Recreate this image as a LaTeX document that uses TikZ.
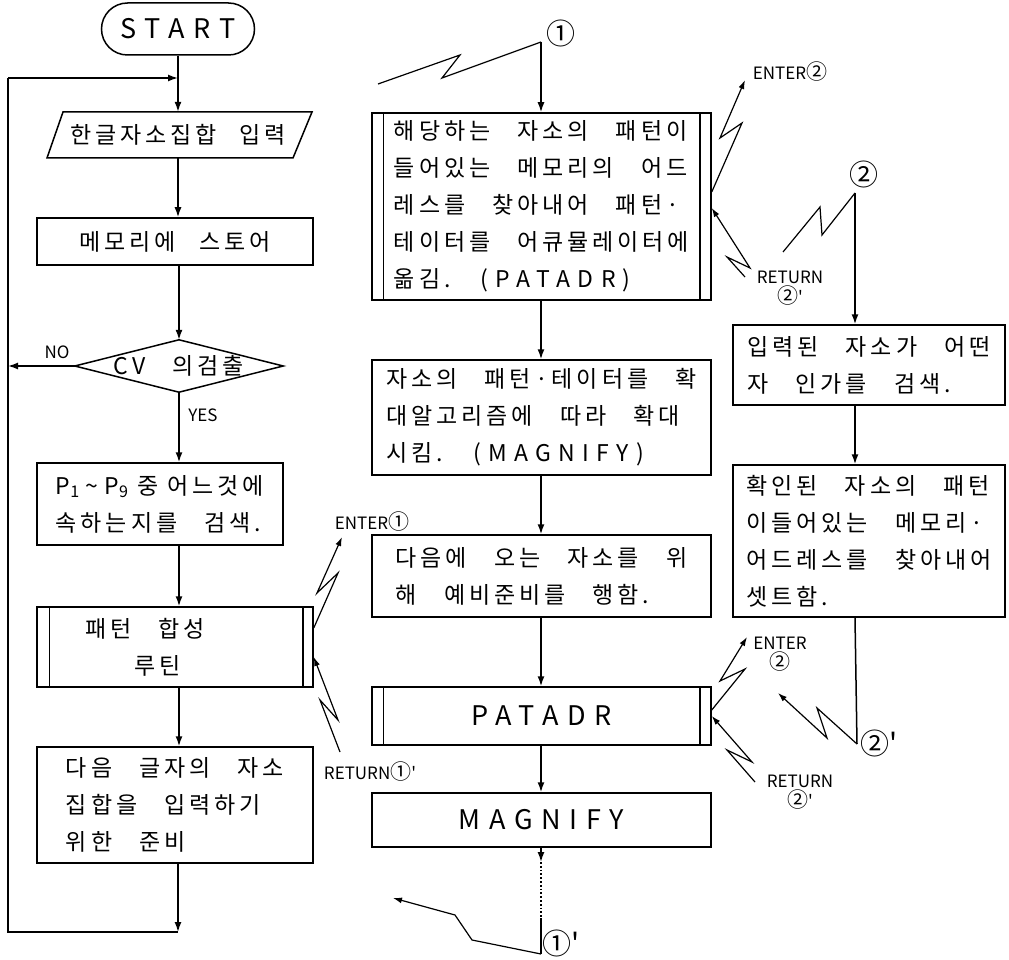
\documentclass[tikz,border=0pt]{standalone}
\usepackage{fontspec}
\newfontfamily\kr{Noto Sans CJK KR}[LetterSpace=17,WordSpace=3]
\newfontfamily\krl{Noto Sans CJK KR}[LetterSpace=32]
\newfontfamily\krn{Noto Sans CJK KR}
\usetikzlibrary{arrows.meta}
\newcommand{\cnum}[1]{{\fontsize{21}{21}\selectfont #1}}
\begin{document}
\begin{tikzpicture}[x=1pt,y=-1pt,
  kr/.style={font=\kr\fontsize{23}{37}\selectfont},
  box/.style={draw, line width=1.5pt, inner sep=0pt, kr, align=left},
  flow/.style={line width=1.5pt, -{Latex[length=10pt,width=7pt]}},
  link/.style={line width=1.5pt},
  lab/.style={font=\krn\fontsize{17}{20}\selectfont, inner sep=0pt, align=center},
  circ/.style={font=\krn\fontsize{29}{29}\selectfont, inner sep=0pt},
  bolt/.style={line width=1.2pt, -{Latex[length=9pt,width=6pt]}},
  boltline/.style={line width=1.2pt},
  latin/.style={font=\krl\fontsize{27}{27}\selectfont}
]
\fill[white] (0,0) rectangle (1009,960);
\useasboundingbox (0,0) rectangle (1009,960);

% ---------------- left column ----------------
\node[box, latin, minimum width=153, minimum height=52, rounded corners=26] (start) at (178,29) {START};
\node[kr, inner sep=0pt, minimum height=46, minimum width=200] (in) at (178,135) {한글자소집합\quad 입력};
\draw[link] (63,112) -- (312,112) -- (293,158) -- (47,158) -- cycle;
\node[box, minimum width=276, minimum height=47] (store) at (175,241.5) {메모리에\quad 스토어};
\node[kr, inner sep=0pt, minimum width=208, minimum height=52] (cv) at (179,366) {CV 의검출};
\draw[link] (cv.north) -- (cv.east) -- (cv.south) -- (cv.west) -- cycle;
\node[box, minimum width=246, minimum height=82] (pb) at (160,504) {P\textsubscript{1}\hspace{6pt}\textasciitilde\hspace{6pt}P\textsubscript{9}\hspace{9pt}중\hspace{9pt}어느것에\\속하는지를 검색.};
\node[box, minimum width=276, minimum height=80, align=center] (sub) at (175,647) {패턴 합성\hspace*{60pt}\\루틴\hspace*{34pt}};
\draw[link] ([xshift=13pt]sub.north west) -- ([xshift=13pt]sub.south west);
\draw[link] ([xshift=-11pt]sub.north east) -- ([xshift=-11pt]sub.south east);
\node[box, minimum width=276, minimum height=116] (prep) at (175,805) {다음 글자의 자소\\집합을 입력하기\\위한 준비};

\coordinate (j) at (178,78);
\coordinate (lb) at (178,932);
\coordinate (lbl) at (8,932);
\coordinate (ltl) at (8,78);
\draw[flow] (start.south) -- (in.north);
\draw[flow] (in.south) -- (in.south |- store.north);
\draw[flow] (cv.north |- store.south) -- (cv.north);
\draw[flow] (cv.west) -- (cv.west -| ltl);
\draw[flow] (cv.south) -- (cv.south |- pb.north);
\draw[flow] (cv.south |- pb.south) -- (cv.south |- sub.north);
\draw[flow] (cv.south |- sub.south) -- (cv.south |- prep.north);
\draw[flow] (lb |- prep.south) -- (lb);
\draw[line width=2.4pt] (lb) -- (lbl) -- (ltl);
\draw[flow] (ltl) -- (j);
\node[lab] (no) at (57,352) {NO};
\node[lab] (yes) at (203,415) {YES};

% ENTER 1 / RETURN 1
\node[lab] (en1) at (372,522) {ENTER\cnum{①}};
\node[lab] (re1) at (370,772) {RETURN\cnum{①}'};
\draw[bolt] (sub.east |- 0,628) -- (338,573) -- (317,593) -- (342,537);
\draw[bolt] (340,752) -- (320,700) -- (338,720) -- (sub.east |- 0,657);

% ---------------- middle column ----------------
\node[circ] (c1) at (561,33) {①};
\coordinate (m1) at (541,42);
\node[box, minimum width=339, minimum height=187] (pa1) at (541.5,206.5)
  {해당하는 자소의 패턴이\\들어있는 메모리의 어드\\레스를 찾아내어 패턴·\\테이터를 어큐뮬레이터에\\옮김. {\krl (PATADR)}};
\draw[link] ([xshift=12pt]pa1.north west) -- ([xshift=12pt]pa1.south west);
\draw[link] ([xshift=-12pt]pa1.north east) -- ([xshift=-12pt]pa1.south east);
\draw[boltline] (378,84) -- (460,55) -- (442,78) -- (m1);
\draw[flow] (m1) -- (m1 |- pa1.north);

\node[box, minimum width=339, minimum height=115] (mg1) at (541.5,417.5)
  {자소의 패턴·테이터를 확\\대알고리즘에 따라 확대\\시킴. {\krl (MAGNIFY)}};
\node[box, minimum width=339, minimum height=82] (nx) at (541.5,576)
  {다음에 오는 자소를 위\\해 예비준비를 행함.};
\node[box, latin, minimum width=339, minimum height=58] (pa2) at (541.5,716) {PATADR};
\draw[link] ([xshift=12pt]pa2.north west) -- ([xshift=12pt]pa2.south west);
\draw[link] ([xshift=-12pt]pa2.north east) -- ([xshift=-12pt]pa2.south east);
\node[box, latin, minimum width=339, minimum height=54] (mg2) at (541.5,820) {MAGNIFY};

\draw[flow] (m1 |- pa1.south) -- (m1 |- mg1.north);
\draw[flow] (m1 |- mg1.south) -- (m1 |- nx.north);
\draw[flow] (m1 |- nx.south) -- (m1 |- pa2.north);
\draw[flow] (m1 |- pa2.south) -- (m1 |- mg2.north);

\coordinate (d1) at (541,862);
\coordinate (d2) at (541,918);
\coordinate (m1e) at (541,954);
\draw[flow] (m1 |- mg2.south) -- (d1);
\draw[line width=1.8pt, dotted] (d1) -- (d2);
\draw[link] (d2) -- (m1e);
\node[circ] (c1e) at (561,943) {①'};
\draw[bolt] (m1e) -- (472,940) -- (455,915) -- (393,898);

% ---------------- right column ----------------
\node[circ] (c2) at (864,174) {②};
\coordinate (m2) at (855,193);
\node[box, minimum width=272, minimum height=80] (se) at (869,365)
  {입력된 자소가 어떤\\자 인가를 검색.};
\node[box, minimum width=272, minimum height=152] (sa) at (869,541)
  {확인된 자소의 패턴\\이들어있는 메모리·\\어드레스를 찾아내어\\셋트함.};
\draw[flow] (m2) -- (m2 |- se.north);
\draw[boltline] (m2) -- (822,235) -- (820,207) -- (783,252);
\draw[flow] (m2 |- se.south) -- (m2 |- sa.north);
\coordinate (m3) at (857,744);
\draw[link] (m2 |- sa.south) -- (m3);
\node[circ] (c2e) at (879,743) {②'};
\draw[bolt] (m3) -- (817,708) -- (827,738) -- (778,693);

% ENTER 2 / RETURN 2 (upper)
\node[lab] (en2a) at (790,72) {ENTER\cnum{②}};
\node[lab] (re2a) at (790,288) {RETURN\\\cnum{②}'};
\draw[bolt] (pa1.east |- 0,192) -- (742,123) -- (720,138) -- (745,80);
\draw[bolt] (745,277) -- (727,257) -- (750,268) -- (pa1.east |- 0,208);

% ENTER 2 / RETURN 2 (lower)
\node[lab] (en2b) at (780,654) {ENTER\\\cnum{②}};
\node[lab] (re2b) at (800,792) {RETURN\\\cnum{②}'};
\draw[bolt] (pa2.east |- 0,710) -- (745,669) -- (720,681) -- (747,637);
\draw[bolt] (755,782) -- (727,750) -- (752,762) -- (pa2.east |- 0,716);
\end{tikzpicture}
\end{document}
